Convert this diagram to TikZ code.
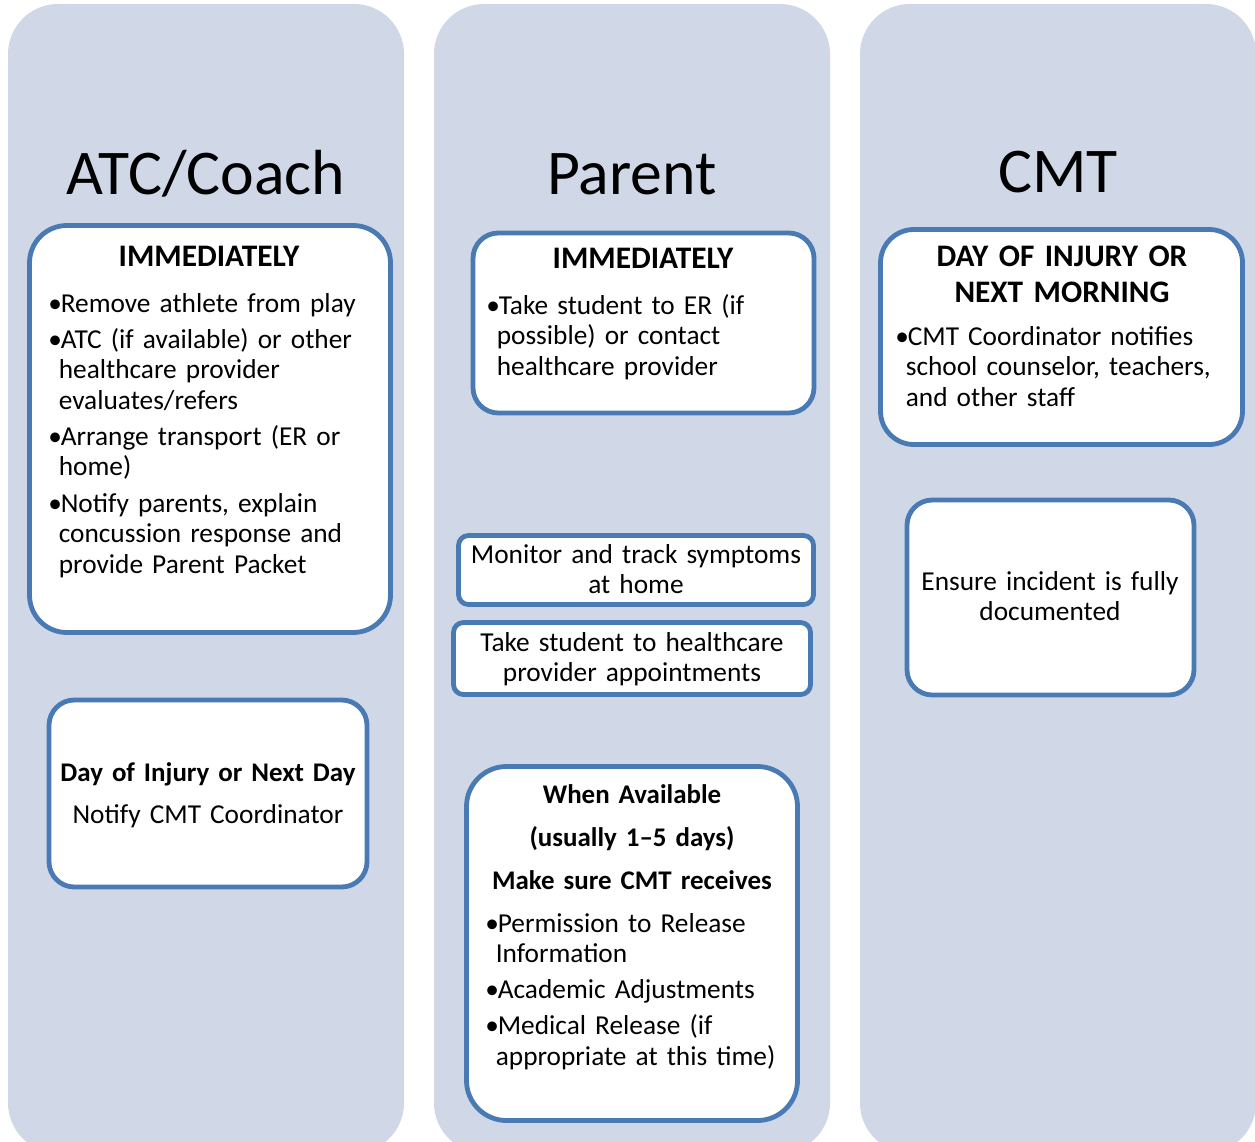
\documentclass[tikz,border=0pt]{standalone}
\usepackage{fontspec}
\setmainfont{Carlito}
\usetikzlibrary{fit}
\definecolor{panelblue}{HTML}{D0D8E8}
\definecolor{edgeblue}{HTML}{4A7AB4}
\newcommand{\blt}{\makebox[9.4pt][l]{\textbullet}}
\newcommand{\ind}{\hspace*{7.9pt}}
\newcommand{\gap}{4.2pt}
\tikzset{
 panel/.style={fill=panelblue, draw=none, rounded corners=37.5pt, inner sep=0pt},
 box/.style={draw=edgeblue, line width=3.6pt, fill=white, inner sep=0pt},
 title/.style={font=\fontsize{47.8}{52}\selectfont, anchor=base, inner sep=0pt},
 head/.style={font=\bfseries\fontsize{23.5}{26.25}\selectfont, anchor=base, align=center, text width=360pt, inner sep=0pt},
 subhead/.style={head, font=\bfseries\fontsize{20.2}{32.25}\selectfont},
 body/.style={font=\fontsize{20.5}{22.9}\selectfont, anchor=base west, align=left, text width=300pt, inner sep=0pt},
 mid/.style={font=\fontsize{20.5}{22.9}\selectfont, anchor=base, align=center, text width=360pt, inner sep=0pt},
}
\begin{document}
\begin{tikzpicture}[x=0.75pt,y=-0.75pt]
 \useasboundingbox (0,0) rectangle (1255,1141);
 \clip (0,0) rectangle (1255,1141);
 % columns
 \node[panel, fit={(8,4) (404,1153)}] (atcCol) {};
 \node[panel, fit={(434,4) (830,1153)}] (parentCol) {};
 \node[panel, fit={(860,4) (1256,1153)}] (cmtCol) {};
 \node[title] (atcTitle) at (206,195) {ATC/Coach};
 \node[title] (parentTitle) at (632,195) {Parent};
 \node[title] (cmtTitle) at (1058,193) {CMT};
 % boxes
 \node[box, rounded corners=28pt, fit={(29.5,225.5) (390.5,632.5)}] (atcNow) {};
 \node[box, rounded corners=19pt, fit={(49,700) (367,887)}] (atcNext) {};
 \node[box, rounded corners=19pt, fit={(473,233) (814,413)}] (parentNow) {};
 \node[box, rounded corners=7.5pt, fit={(458.5,535.5) (813.5,604.5)}] (parentTrack) {};
 \node[box, rounded corners=7.5pt, fit={(453.5,622.5) (810.5,694.5)}] (parentVisit) {};
 \node[box, rounded corners=30pt, fit={(466.5,766.5) (797.5,1120.5)}] (parentSend) {};
 \node[box, rounded corners=25pt, fit={(880.5,229.5) (1242.5,444.5)}] (cmtNotify) {};
 \node[box, rounded corners=19pt, fit={(907,500) (1194,695)}] (cmtRecord) {};
 % ATC/Coach texts
 \node[head] (atcNowHead) at (209,267) {IMMEDIATELY};
 \node[body] (atcNowList) at (48,312) {\blt Remove athlete from play\\[\gap]
 \blt ATC (if available) or other\\ \ind healthcare provider\\ \ind evaluates/refers\\[\gap]
 \blt Arrange transport (ER or\\ \ind home)\\[\gap]
 \blt Notify parents, explain\\ \ind concussion response and\\ \ind provide Parent Packet};
 \node[subhead] (atcNextHead) at (208,781) {Day of Injury or Next Day};
 \node[mid] (atcNextText) at (208,823) {Notify CMT Coordinator};
 % Parent texts
 \node[head] (parentNowHead) at (643,268) {IMMEDIATELY};
 \node[body] (parentNowList) at (486,314) {\blt Take student to ER (if\\ \ind possible) or contact\\ \ind healthcare provider};
 \node[mid] (parentTrackText) at (636,563) {Monitor and track symptoms\\ at home};
 \node[mid] (parentVisitText) at (632,651) {Take student to healthcare\\ provider appointments};
 \node[subhead] (parentSendHead) at (632,803) {When Available\\ (usually 1--5 days)\\ Make sure CMT receives};
 \node[body] (parentSendList) at (485,932) {\blt Permission to Release\\ \ind Information\\[\gap]
 \blt Academic Adjustments\\[\gap]
 \blt Medical Release (if\\ \ind appropriate at this time)};
 % CMT texts
 \node[head] (cmtNotifyHead) at (1062,267) {DAY OF INJURY OR\\ NEXT MORNING};
 \node[body] (cmtNotifyList) at (895,345) {\blt CMT Coordinator notifies\\ \ind school counselor, teachers,\\ \ind and other staff};
 \node[mid] (cmtRecordText) at (1050,590) {Ensure incident is fully\\ documented};
\end{tikzpicture}
\end{document}
